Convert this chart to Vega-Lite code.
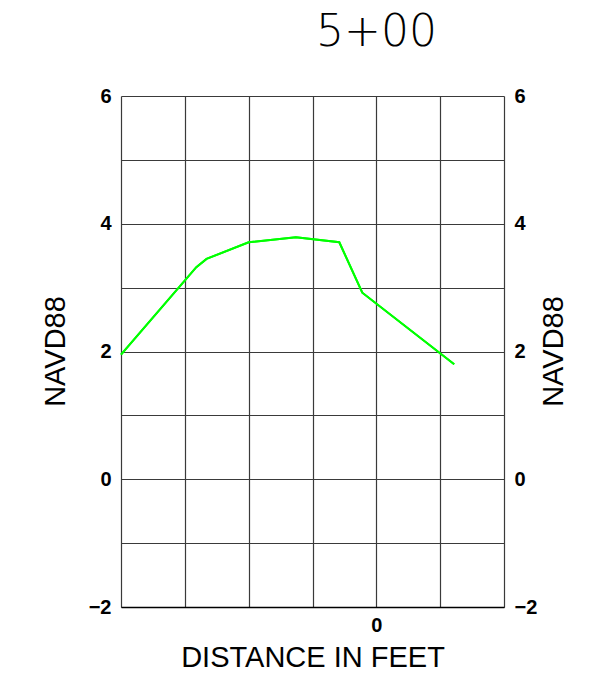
{
  "$schema": "https://vega.github.io/schema/vega-lite/v6.json",
  "autosize": "none",
  "width": 383,
  "height": 511,
  "padding": {"left": 121, "top": 96, "right": 86, "bottom": 86},
  "background": "white",
  "title": {
    "text": "5+00",
    "anchor": "middle",
    "dx": 64,
    "offset": 31,
    "font": "DejaVu Sans",
    "fontSize": 44,
    "fontWeight": 200,
    "color": "black"
  },
  "config": {
    "view": {"stroke": null},
    "axis": {
      "labelFont": "Liberation Sans",
      "labelFontSize": 20,
      "labelFontWeight": "bold",
      "labelColor": "black",
      "titleFont": "Liberation Sans",
      "titleFontWeight": "normal",
      "titleColor": "black",
      "ticks": false,
      "gridColor": "#3a3a3a",
      "gridWidth": 1.2,
      "gridOpacity": 1,
      "domainColor": "black",
      "domainWidth": 1.5
    }
  },
  "data": {
    "values": [
      {"dist": -40.0, "elev": 1.95},
      {"dist": -28.2, "elev": 3.32},
      {"dist": -26.6, "elev": 3.45},
      {"dist": -20.0, "elev": 3.71},
      {"dist": -12.6, "elev": 3.79},
      {"dist": -5.8, "elev": 3.71},
      {"dist": -2.2, "elev": 2.92},
      {"dist": 12.2, "elev": 1.80}
    ]
  },
  "layer": [
    {
      "mark": {"type": "line", "color": "#00ff00", "strokeWidth": 2},
      "encoding": {
        "x": {
          "field": "dist",
          "type": "quantitative",
          "scale": {"domain": [-40, 20], "nice": false, "zero": false},
          "axis": {
            "values": [-40, -30, -20, -10, 0, 10, 20],
            "labelExpr": "datum.value == 0 ? '0' : ''",
            "labelPadding": 8,
            "domain": true,
            "title": "DISTANCE IN FEET",
            "titleFontSize": 29,
            "titlePadding": 8
          }
        },
        "y": {
          "field": "elev",
          "type": "quantitative",
          "scale": {"domain": [-2, 6], "nice": false, "zero": false},
          "axis": {
            "orient": "left",
            "values": [-2, -1, 0, 1, 2, 3, 4, 5, 6],
            "labelExpr": "datum.value % 2 == 0 ? datum.label : ''",
            "labelPadding": 10,
            "domain": false,
            "title": "NAVD88",
            "titleFontSize": 29,
            "titleAngle": -90,
            "titleX": -66,
            "titleY": 255,
            "titleAlign": "center",
            "titleBaseline": "middle"
          }
        }
      }
    },
    {
      "mark": {"type": "line", "color": "#00ff00", "strokeWidth": 2},
      "encoding": {
        "x": {"field": "dist", "type": "quantitative"},
        "y": {
          "field": "elev",
          "type": "quantitative",
          "scale": {"domain": [-2, 6], "nice": false, "zero": false},
          "axis": {
            "orient": "right",
            "values": [-2, 0, 2, 4, 6],
            "labelPadding": 10,
            "grid": false,
            "domain": false,
            "title": "NAVD88",
            "titleFontSize": 29,
            "titleAngle": -90,
            "titleX": 49,
            "titleY": 255,
            "titleAlign": "center",
            "titleBaseline": "middle"
          }
        }
      }
    }
  ],
  "resolve": {"scale": {"y": "independent"}, "axis": {"y": "independent"}}
}
